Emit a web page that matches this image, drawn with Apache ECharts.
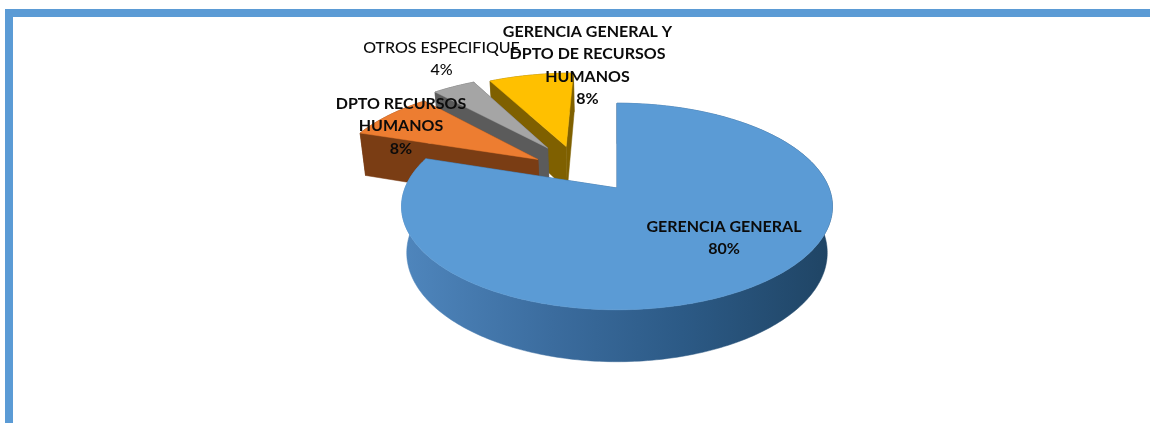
<!DOCTYPE html>
<html>
<head>
<meta charset="utf-8">
<style>
  html, body { margin: 0; padding: 0; background: #fff; }
  #chart { width: 1150px; height: 423px; }
</style>
<script src="https://cdn.jsdelivr.net/npm/echarts@6/dist/echarts.min.js"></script>
</head>
<body>
<div id="chart"></div>
<script>
const categories = [
  'GERENCIA GENERAL',
  'DPTO RECURSOS\nHUMANOS',
  'OTROS ESPECIFIQUE',
  'GERENCIA GENERAL Y\nDPTO DE RECURSOS\nHUMANOS'
];
const values = [80, 8, 4, 8];

// pie look, same order as the categories
const sliceShift = [[0, 0], [-0.393, 0.301], [-0.352, 0.43], [-0.259, 0.447]];
const topColors = ['#5b9bd5', '#ed7d31', '#a5a5a5', '#ffc000'];
const sideColors = ['#2c5a86', '#7a3d14', '#5b5b5b', '#7f6000'];
const labelAt = [[724, 238], [401, 126], [441.5, 59], [587.5, 65.5]];
const labelWeight = ['bold', 'bold', 500, 'bold'];

// perspective of the tilted pie
const view = { x: 617, y: 188, rx: 212, ry: 100, depth: 46.8, p: 0.179, q: 0.024 };

const project = (u, v, z) => {
  const w = 1 + view.p * v + view.q * z;
  return [view.x + (view.rx * u) / w, view.y - (view.ry * v - view.depth * z) / w];
};

const total = values.reduce((a, b) => a + b, 0);
const startAngles = values.map((_, i) =>
  (values.slice(0, i).reduce((a, b) => a + b, 0) / total) * 360
);

const rimPoints = (from, to, ox, oy, z) => {
  const pts = [];
  const steps = Math.max(2, Math.ceil(to - from));
  for (let s = 0; s <= steps; s++) {
    const a = ((from + ((to - from) * s) / steps) * Math.PI) / 180;
    pts.push(project(ox + Math.sin(a), oy + Math.cos(a), z));
  }
  return pts;
};

const polygon = (points, fill) => ({
  type: 'polygon',
  shape: { points },
  style: { fill, stroke: fill, lineWidth: 0.5 }
});

const frontGradient = () =>
  new echarts.graphic.LinearGradient(0, 0, 1, 0, [
    { offset: 0, color: '#4f86bd' },
    { offset: 0.35, color: '#3b6c9e' },
    { offset: 0.65, color: '#2c5a86' },
    { offset: 1, color: '#1f4464' }
  ]);

const renderSlice = (params, api) => {
  const i = api.value(0);
  const from = startAngles[i];
  const to = from + (values[i] / total) * 360;
  const [ox, oy] = sliceShift[i];

  const radial = (angle) => {
    const rad = (angle * Math.PI) / 180;
    const ex = ox + Math.sin(rad);
    const ey = oy + Math.cos(rad);
    return [project(ox, oy, 0), project(ex, ey, 0), project(ex, ey, 1), project(ox, oy, 1)];
  };

  const rimTop = rimPoints(from, to, ox, oy, 0);
  const rimBottom = rimPoints(from, to, ox, oy, 1).reverse();
  const side = sideColors[i];
  return {
    type: 'group',
    children: [
      polygon(radial(to), side),
      polygon(rimTop.concat(rimBottom), i === 0 ? frontGradient() : side),
      polygon(radial(from), side),
      polygon([project(ox, oy, 0)].concat(rimTop), topColors[i])
    ]
  };
};

const renderLabel = (params, api) => {
  const i = api.value(0);
  return {
    type: 'text',
    style: {
      x: labelAt[i][0],
      y: labelAt[i][1],
      text: categories[i] + '\n' + values[i] + '%',
      align: 'center',
      verticalAlign: 'middle',
      fontFamily: 'Lato',
      fontSize: 16,
      fontWeight: labelWeight[i],
      lineHeight: 22.5,
      fill: '#0b0b0b'
    }
  };
};

// back slices first, the big one goes on top of them
const order = values.map((_, i) => [values.length - 1 - i]);

const chart = echarts.init(document.getElementById('chart'));
chart.setOption({
  animation: false,
  graphic: [
    { type: 'rect', shape: { x: 5, y: 9, width: 8, height: 414 }, style: { fill: '#5b9bd5' } },
    { type: 'rect', shape: { x: 5, y: 9, width: 1145, height: 8 }, style: { fill: '#5b9bd5' } }
  ],
  series: [
    { type: 'custom', coordinateSystem: 'none', renderItem: renderSlice, data: order, z: 2 },
    { type: 'custom', coordinateSystem: 'none', renderItem: renderLabel, data: order, z: 3 }
  ]
});
</script>
</body>
</html>
